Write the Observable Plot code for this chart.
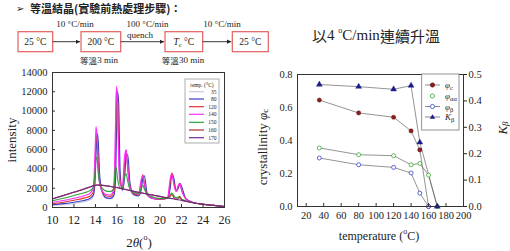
<!DOCTYPE html>
<html><head><meta charset="utf-8">
<script src="https://cdn.jsdelivr.net/npm/d3@7"></script>
<script src="https://cdn.jsdelivr.net/npm/@observablehq/plot@0.6"></script>
<style>
body{margin:0;background:#fff}
#root{position:relative;width:510px;height:251px;overflow:hidden;background:#fff}
#root svg{position:absolute}
#root svg text{font-family:'Liberation Serif','DejaVu Serif',serif}
</style>
</head><body><div id="root"></div>
<script>
// ---------- data: left chart (XRD) ----------
const angles = [10,11,12,13,13.5,13.8,13.95,14.05,14.15,14.25,14.4,14.7,15.0,15.4,15.7,15.85,15.95,16.05,16.15,16.3,16.5,16.7,16.85,17.0,17.2,17.5,18.0,18.25,18.4,18.55,18.8,19.2,20.0,20.7,20.95,21.1,21.3,21.5,21.7,21.85,22.0,22.4,23.0,24.0,25.0,26.0];
const xrdTemps = [35,80,120,140,150,160,170];
const xrdColors = ["#c9c9dc","#3a3ac8","#e03434","#ff2cff","#2fa33a","#a8302c","#742a8a"];
const i35  = [200,300,420,620,800,1200,3500,7000,7600,5500,2600,1300,950,900,1400,4000,10500,11800,8000,2500,1800,3500,5000,3800,2000,1300,1200,2200,3200,2600,1300,950,850,950,2500,3400,2600,1700,2100,2400,1900,900,550,330,230,100];
const i80  = [280,400,550,750,950,1300,2500,5500,7700,7000,3200,1400,1000,950,1200,2500,7500,12000,11000,3500,1800,3000,5300,5500,2600,1400,1200,1800,3000,3300,1500,1000,850,950,2000,3500,3000,1700,2000,2500,2200,950,550,330,230,100];
const i120 = [400,550,750,1000,1200,1600,4000,7300,7000,4800,2500,1500,1200,1150,1600,5000,12400,11500,6500,2600,2000,4500,5900,4200,2200,1500,1300,2600,3400,2400,1300,1000,850,950,2600,3600,2500,1700,2200,2500,1900,900,550,330,230,100];
const i140 = [550,720,950,1250,1500,2000,5500,8400,7200,4200,2400,1600,1350,1300,2000,8000,12600,10500,5000,2400,2200,5200,6000,4000,2200,1600,1400,2900,3300,2200,1300,1000,900,1000,3000,3500,2300,1700,2300,2500,1800,900,550,330,230,100];
const i150 = [700,950,1250,1550,1750,2100,3500,5200,5000,3600,2500,1900,1700,1650,2000,4300,4000,3000,2400,2000,2000,3200,3500,2700,1900,1600,1450,2000,2300,1900,1400,1150,950,950,1300,1500,1200,1000,1100,1150,900,700,500,320,220,90];
const i160 = [880,1230,1580,1930,2130,2240,2290,2310,2320,2320,2320,2290,2240,2170,2110,2090,2070,2050,2030,1990,1940,1890,1850,1810,1760,1690,1570,1510,1480,1450,1390,1310,1140,990,1150,1350,1000,850,950,1050,800,640,510,320,210,80];
const i170 = [900,1250,1600,1950,2150,2250,2300,2320,2330,2330,2330,2300,2250,2180,2120,2100,2080,2060,2040,2000,1950,1900,1860,1820,1770,1700,1580,1520,1490,1460,1400,1320,1150,1000,950,920,880,840,800,770,740,650,520,330,220,80];
const xrdSeries = [i35,i80,i120,i140,i150,i160,i170];
const xrdXTicks = [10,12,14,16,18,20,22,24,26];
const xrdYTicks = [0,2000,4000,6000,8000,10000,12000,14000];

// ---------- data: right chart ----------
const tPhiC = [35,80,120,140,150,160];
const phiC  = [0.645,0.567,0.541,0.458,0.343,0];
const tPhiA = [35,80,120,140,150,160,170];
const phiA  = [0.355,0.314,0.308,0.253,0.261,0.19,0];
const tPhiB = [35,80,120,140,150,160];
const phiB  = [0.294,0.253,0.237,0.203,0.081,0];
const tK    = [35,80,120,140,150,170];
const kBeta = [0.462,0.454,0.444,0.458,0.243,0];
const tempTicks = [20,40,60,80,100,120,140,160,180,200];
const phiTicks = [0,0.2,0.4,0.6,0.8];
const kTicks = [0,0.1,0.2,0.3,0.4,0.5];

const root = d3.select("#root");
const serif = "Liberation Serif";
const cjk = "Noto Sans CJK TC";

// ---------- left plot ----------
const xrd = [];
xrdTemps.forEach((t, k) => angles.forEach((a, j) => xrd.push({temp: t, angle: a, intensity: xrdSeries[k][j]})));
const LW = 250, LH = 191, LmL = 52, LmR = 26, LmT = 12, LmB = 44;
const left = Plot.plot({
  width: LW, height: LH, marginLeft: LmL, marginRight: LmR, marginTop: LmT, marginBottom: LmB,
  style: {fontFamily: serif, background: "transparent", color: "#222"},
  x: {domain: [10, 26]},
  y: {domain: [0, 14000]},
  color: {domain: xrdTemps, range: xrdColors},
  marks: [
    Plot.line(xrd, {x: "angle", y: "intensity", z: "temp", stroke: "temp", strokeWidth: 1.1, curve: "monotone-x"}),
    Plot.frame({stroke: "#333", strokeWidth: 1}),
    Plot.tickX(xrdXTicks, {x: d => d, insetTop: LH - LmT - LmB - 3, stroke: "#333"}),
    Plot.tickY(xrdYTicks, {y: d => d, insetRight: LW - LmL - LmR - 3, stroke: "#333"}),
    Plot.axisX(xrdXTicks, {tickSize: 0, tickPadding: 8, fontSize: 12, fontFamily: serif, label: null}),
    Plot.axisY(xrdYTicks, {tickSize: 0, tickPadding: 5, fontSize: 10.5, fontFamily: serif, label: null, tickFormat: d => String(d)})
  ]
});
left.style.left = "0px"; left.style.top = "60px";
root.node().appendChild(left);

// ---------- right plot ----------
const rows = (ts, vs) => ts.map((t, i) => ({t, v: vs[i]}));
const RW = 260, RH = 191, RmL = 47, RmR = 47, RmT = 14, RmB = 45;
const right = Plot.plot({
  width: RW, height: RH, marginLeft: RmL, marginRight: RmR, marginTop: RmT, marginBottom: RmB,
  style: {fontFamily: serif, background: "transparent", color: "#222"},
  x: {domain: [10, 200]},
  y: {domain: [0, 0.8]},
  marks: [
    Plot.line(rows(tPhiC, phiC), {x: "t", y: "v", stroke: "#666", strokeWidth: 0.7}),
    Plot.line(rows(tPhiA, phiA), {x: "t", y: "v", stroke: "#666", strokeWidth: 0.7}),
    Plot.line(rows(tPhiB, phiB), {x: "t", y: "v", stroke: "#666", strokeWidth: 0.7}),
    Plot.line(rows(tK, kBeta), {x: "t", y: d => d.v * 1.6, stroke: "#666", strokeWidth: 0.7}),
    Plot.dot(rows(tPhiC, phiC), {x: "t", y: "v", r: 2.1, fill: "#8e1d1d", stroke: "#5e1010", strokeWidth: 0.5}),
    Plot.dot(rows(tPhiA, phiA), {x: "t", y: "v", r: 2, fill: "white", stroke: "#33a833", strokeWidth: 0.8}),
    Plot.dot(rows(tPhiB, phiB), {x: "t", y: "v", r: 2, fill: "white", stroke: "#3344cc", strokeWidth: 0.8}),
    Plot.dot(rows(tK, kBeta), {x: "t", y: d => d.v * 1.6, symbol: "triangle", r: 2.2, fill: "#1c1c86", stroke: "#1c1c86", strokeWidth: 0.4}),
    Plot.frame({stroke: "#333", strokeWidth: 1}),
    Plot.tickX(tempTicks.filter(d => d < 200), {x: d => d, insetTop: RH - RmT - RmB - 3, stroke: "#333"}),
    Plot.axisX(tempTicks, {tickSize: 0, tickPadding: 5, fontSize: 10.5, fontFamily: serif, label: null}),
    Plot.axisY(phiTicks, {tickSize: 0, tickPadding: 5, fontSize: 10.5, fontFamily: serif, label: null, tickFormat: d => d.toFixed(1)}),
    Plot.axisY(kTicks.map(d => d * 1.6), {anchor: "right", tickSize: 3, tickPadding: 2, fontSize: 10.5, fontFamily: serif, label: null, tickFormat: d => (d / 1.6).toFixed(1)})
  ]
});
right.style.left = "250px"; right.style.top = "60px";
root.node().appendChild(right);

// ---------- overlay: diagram, titles, axis labels, legends ----------
const o = root.append("svg").attr("width", 510).attr("height", 251).style("left", "0px").style("top", "0px");

function txt(x, y, s, opts = {}) {
  const t = o.append("text").attr("x", x).attr("y", y)
    .attr("font-size", opts.size || 10)
    .attr("text-anchor", opts.anchor || "middle").attr("dominant-baseline", "central")
    .attr("fill", opts.fill || "#222");
  t.style("font-family", opts.family || serif);
  if (opts.rotate) t.attr("transform", `rotate(${opts.rotate},${x},${y})`);
  if (opts.weight) t.attr("font-weight", opts.weight);
  if (opts.italic) t.attr("font-style", "italic");
  if (typeof s === "string") t.text(s);
  else s.forEach(p => {
    const ts = t.append("tspan").text(p.t);
    if (p.i) ts.attr("font-style", "italic");
    if (p.fs) ts.attr("font-size", p.fs);
    if (p.dy) ts.attr("dy", p.dy);
    if (p.fam) ts.style("font-family", p.fam);
  });
  return t;
}

// header
txt(16, 8, "➢", {anchor: "start", size: 10, family: "DejaVu Sans"});
txt(30, 8, "等溫結晶(實驗前熱處理步驟)：", {anchor: "start", size: 11, family: cjk, weight: 600});

// flow diagram
const defs = o.append("defs");
defs.append("marker").attr("id", "ah").attr("viewBox", "0 0 10 10").attr("refX", 10).attr("refY", 5)
  .attr("markerWidth", 5).attr("markerHeight", 5).attr("orient", "auto")
  .append("path").attr("d", "M0,0L10,5L0,10z").attr("fill", "#222");
const boxes = [[18, 52.7], [81, 120.7], [165, 202.7], [232.3, 268.3]];
boxes.forEach(([a, b]) => o.append("rect").attr("x", a).attr("y", 31.7).attr("width", b - a).attr("height", 20)
  .attr("fill", "white").attr("stroke", "#e36060").attr("stroke-width", 1.2));
for (let k = 0; k < 3; k++) {
  o.append("line").attr("x1", boxes[k][1]).attr("x2", boxes[k + 1][0] - 1).attr("y1", 41.7).attr("y2", 41.7)
    .attr("stroke", "#222").attr("stroke-width", 0.9).attr("marker-end", "url(#ah)");
}
txt(35.3, 42, "25 °C", {size: 9.5});
txt(100.8, 42, "200 °C", {size: 9.5});
txt(183.8, 42, [{t: "T", i: 1}, {t: "c", fs: 6.5, dy: 2}, {t: " °C", dy: -2}], {size: 9.5});
txt(250.3, 42, "25 °C", {size: 9.5});
txt(75, 24, "10 °C/min", {size: 9});
txt(147.5, 24, "100 °C/min", {size: 9});
txt(140, 35, "quench", {size: 9});
txt(222, 24, "10 °C/min", {size: 9});
txt(99, 60, [{t: "等溫", fam: cjk, fs: 8.5}, {t: "3 min"}], {size: 9});
txt(183, 60, [{t: "等溫", fam: cjk, fs: 8.5}, {t: "30 min"}], {size: 9});

// right title
txt(376, 35, [{t: "以", fam: cjk}, {t: "4 "}, {t: "o", fs: 8, dy: -5}, {t: "C/min", dy: 5}, {t: "連續升溫", fam: cjk}], {size: 15});

// left chart axis labels
txt(11, 140, "intensity", {size: 13, rotate: -90});
txt(139, 242, [{t: "2"}, {t: "θ", i: 1}, {t: "("}, {t: "o", fs: 8, dy: -5}, {t: ")", dy: 5}], {size: 13});

// right chart axis labels
txt(262, 147, [{t: "crystallinity "}, {t: "φ", i: 1}, {t: "c", fs: 9, dy: 3}], {size: 13, rotate: -90});
txt(502, 128, [{t: "K", i: 1}, {t: "β", i: 1, fs: 9, dy: 3}], {size: 13, rotate: -90});
txt(379, 236, [{t: "temperature ("}, {t: "o", fs: 8, dy: -5}, {t: "C)", dy: 5}], {size: 12});

// left legend
o.append("rect").attr("x", 185).attr("y", 79).attr("width", 34).attr("height", 64)
  .attr("fill", "white").attr("stroke", "#999").attr("stroke-width", 0.8);
txt(202, 85, "temp. (°C)", {size: 5.5});
const legY = [91.7, 99, 106.7, 114.3, 122.3, 130, 137.7];
xrdTemps.forEach((t, k) => {
  o.append("line").attr("x1", 189).attr("x2", 204).attr("y1", legY[k]).attr("y2", legY[k])
    .attr("stroke", xrdColors[k]).attr("stroke-width", 1.2);
  txt(216.5, legY[k], String(t), {size: 5.5, anchor: "end"});
});

// right legend
o.append("rect").attr("x", 421.7).attr("y", 74).attr("width", 37.3).attr("height", 56)
  .attr("fill", "white").attr("stroke", "#777").attr("stroke-width", 0.8);
const rl = [
  {y: 85, line: true, sym: "circle", fill: "#8e1d1d", stroke: "#5e1010", lab: [{t: "φ", i: 1}, {t: "c", fs: 6.5, dy: 2}]},
  {y: 96, line: false, sym: "circle", fill: "white", stroke: "#33a833", lab: [{t: "φ", i: 1}, {t: "αα", fs: 6.5, dy: 2}]},
  {y: 106.5, line: true, sym: "circle", fill: "white", stroke: "#3344cc", lab: [{t: "φ", i: 1}, {t: "β", fs: 6.5, dy: 2}]},
  {y: 117, line: true, sym: "tri", fill: "#1c1c86", stroke: "#1c1c86", lab: [{t: "K", i: 1}, {t: "β", fs: 6.5, dy: 2}]}
];
rl.forEach(e => {
  if (e.line) o.append("line").attr("x1", 425).attr("x2", 440).attr("y1", e.y).attr("y2", e.y).attr("stroke", "#555").attr("stroke-width", 0.7);
  if (e.sym === "circle") o.append("circle").attr("cx", 432.5).attr("cy", e.y).attr("r", 2.1)
    .attr("fill", e.fill).attr("stroke", e.stroke).attr("stroke-width", 0.8);
  else o.append("path").attr("d", `M432.5,${e.y - 2.7}L435.2,${e.y + 1.8}L429.8,${e.y + 1.8}Z`).attr("fill", e.fill);
  txt(445, e.y, e.lab, {size: 9, anchor: "start"});
});
</script>
</body></html>
